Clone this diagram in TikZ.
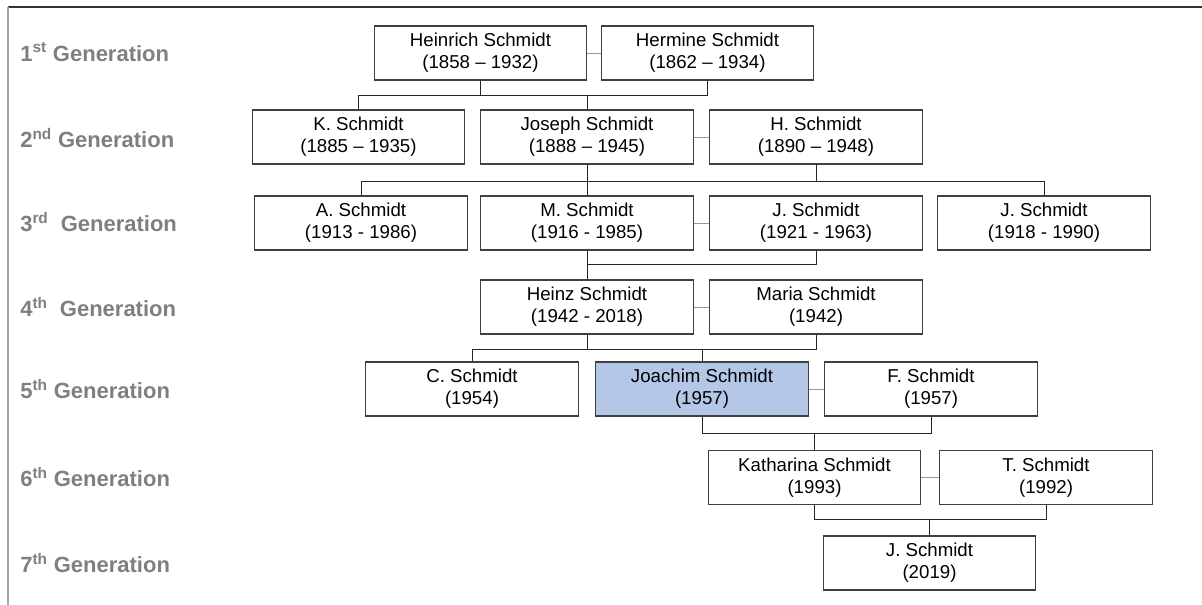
\documentclass[tikz,border=0pt]{standalone}
\usepackage{fontspec}
\setmainfont{Liberation Sans}
\definecolor{boxline}{HTML}{404040}
\definecolor{framegray}{HTML}{A6A6A6}
\definecolor{labelgray}{HTML}{7F7F7F}
\definecolor{chosenblue}{HTML}{B4C7E7}
\begin{document}
\begin{tikzpicture}[x=0.75pt,y=-0.75pt]
  \tikzstyle{person}=[rectangle, draw=boxline, fill=white, line width=0.8pt, minimum width=159.5pt, minimum height=40.5pt, inner sep=0pt, align=center, font=\fontsize{14}{16.5}\selectfont]
  \tikzstyle{genlabel}=[anchor=west, inner sep=0pt, text=labelgray, font=\fontsize{16.5}{18}\selectfont\bfseries]
  \tikzstyle{descent}=[draw=black!85, line width=0.7pt]
  \tikzstyle{marriage}=[draw=black!40, line width=0.7pt]
  \useasboundingbox (0,0) rectangle (1202,605);
  % frame
  \draw[black!80, line width=1pt] (8,7) -- (1202,7);
  \draw[framegray, line width=1.5pt] (8,7) -- (8,605);
  % generation labels
  \node[genlabel] (G1) at (20,52) {1\textsuperscript{st} Generation};
  \node[genlabel] (G2) at (20,138) {2\textsuperscript{nd} Generation};
  \node[genlabel] (G3) at (20,222) {3\textsuperscript{rd}\ \ Generation};
  \node[genlabel] (G4) at (20,307) {4\textsuperscript{th}\ \ Generation};
  \node[genlabel] (G5) at (20,389) {5\textsuperscript{th} Generation};
  \node[genlabel] (G6) at (20,477) {6\textsuperscript{th} Generation};
  \node[genlabel] (G7) at (20,563) {7\textsuperscript{th} Generation};
  % persons
  \node[person] (Heinrich) at (480.5,53) {Heinrich Schmidt\\(1858 -- 1932)};
  \node[person] (Hermine) at (707.5,53) {Hermine Schmidt\\(1862 -- 1934)};
  \node[person] (K) at (358.5,137) {K. Schmidt\\(1885 -- 1935)};
  \node[person] (Joseph) at (587,137) {Joseph Schmidt\\(1888 -- 1945)};
  \node[person] (H) at (816,137) {H. Schmidt\\(1890 -- 1948)};
  \node[person] (A) at (361,223) {A. Schmidt\\(1913 - 1986)};
  \node[person] (M) at (587,223) {M. Schmidt\\(1916 - 1985)};
  \node[person] (J) at (816,223) {J. Schmidt\\(1921 - 1963)};
  \node[person] (JJ) at (1044,223) {J. Schmidt\\(1918 - 1990)};
  \node[person] (Heinz) at (587,307) {Heinz Schmidt\\(1942 - 2018)};
  \node[person] (Maria) at (816,307) {Maria Schmidt\\(1942)};
  \node[person] (C) at (472,389) {C. Schmidt\\(1954)};
  \node[person, fill=chosenblue] (Joachim) at (702,389) {Joachim Schmidt\\(1957)};
  \node[person] (F) at (931,389) {F. Schmidt\\(1957)};
  \node[person] (Katharina) at (814.5,477.5) {Katharina Schmidt\\(1993)};
  \node[person] (T) at (1046,477.5) {T. Schmidt\\(1992)};
  \node[person] (JS) at (929.5,563) {J. Schmidt\\(2019)};
  % bus lines
  \coordinate (bus1) at (0,95);
  \coordinate (bus2) at (0,181);
  \coordinate (bus3) at (0,264);
  \coordinate (bus4) at (0,349);
  \coordinate (bus5) at (0,433);
  \coordinate (bus6) at (0,519);
  % marriages
  \draw[marriage] (Heinrich.east) -- (Hermine.west);
  \draw[marriage] (Joseph.east) -- (H.west);
  \draw[marriage] (M.east) -- (J.west);
  \draw[marriage] (Heinz.east) -- (Maria.west);
  \draw[marriage] (Joachim.east) -- (F.west);
  \draw[marriage] (Katharina.east) -- (T.west);
  % descent
  \draw[descent] (Hermine.south) -- (Hermine.south |- bus1) -| (K.north);
  \draw[descent] (Heinrich.south) -- (Heinrich.south |- bus1);
  \draw[descent] (Joseph.north |- bus1) -- (Joseph.north);
  \draw[descent] (Joseph.south) -- (M.north);
  \draw[descent] (H.south) -- (H.south |- bus2);
  \draw[descent] (A.north) |- (bus2 -| JJ.north) -- (JJ.north);
  \draw[descent] (M.south) -- (Heinz.north);
  \draw[descent] (J.south) |- (bus3 -| M.south);
  \draw[descent] (Maria.south) |- (bus4 -| C.north) -- (C.north);
  \draw[descent] (Heinz.south) -- (Heinz.south |- bus4);
  \draw[descent] (Joachim.north |- bus4) -- (Joachim.north);
  \draw[descent] (Joachim.south) |- (bus5 -| F.south) -- (F.south);
  \draw[descent] (Katharina.north |- bus5) -- (Katharina.north);
  \draw[descent] (Katharina.south) |- (bus6 -| T.south) -- (T.south);
  \draw[descent] (JS.north |- bus6) -- (JS.north);
\end{tikzpicture}
\end{document}
